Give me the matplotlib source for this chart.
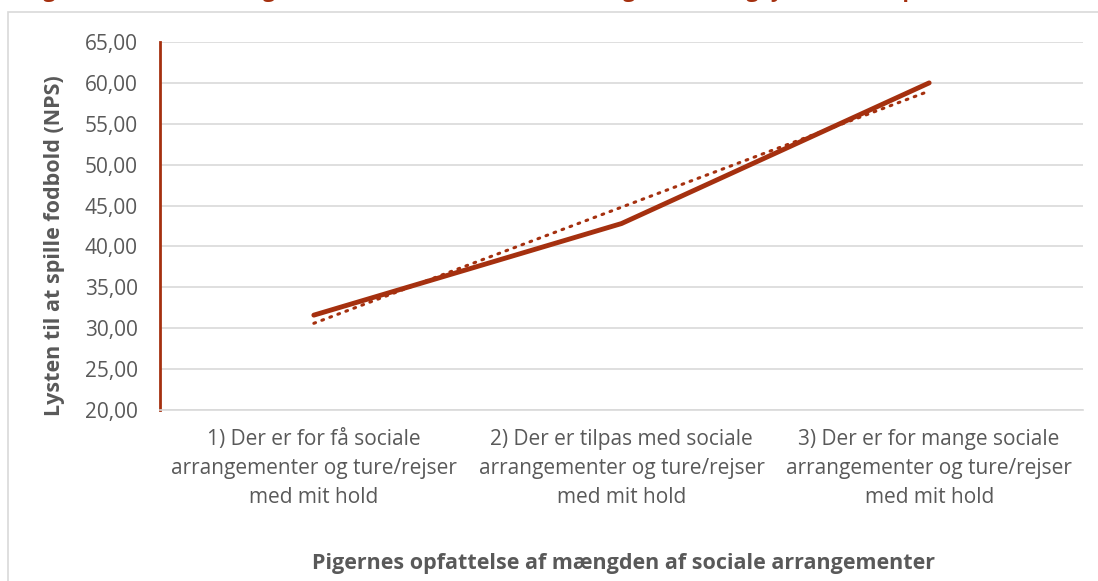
import numpy as np
import matplotlib
matplotlib.use("Agg")
import matplotlib.pyplot as plt
from matplotlib.patches import Rectangle

plt.rcParams['font.family'] = ['Open Sans', 'DejaVu Sans']

categories = ["1) Der er for få sociale\narrangementer og ture/rejser\nmed mit hold",
              "2) Der er tilpas med sociale\narrangementer og ture/rejser\nmed mit hold",
              "3) Der er for mange sociale\narrangementer og ture/rejser\nmed mit hold"]
nps = [31.6, 42.8, 60.0]
yticks = [20, 25, 30, 35, 40, 45, 50, 55, 60, 65]

red = "#A5300F"
grey = "#595959"
grid = "#D9D9D9"

W, H = 1098, 581
x = np.arange(len(categories))
coef = np.polyfit(x, nps, 1)
trend = np.polyval(coef, x)

fig = plt.figure(figsize=(10.98, 5.81), dpi=100)
ax = fig.add_axes([160/W, 1 - 410/H, (1083-160)/W, (410-42)/H])

# outer chart border
fig.patches.append(Rectangle((8/W, -0.1), 1.2, 1 - 12/H + 0.1,
                             transform=fig.transFigure, fill=False,
                             edgecolor=grid, linewidth=1.2))

# title, cut off at the top like in the reference
fig.text(25/W, 1 + 2.5/H, "Figur 14: Sammenhæng mellem antallet af sociale arrangementer og lysten til at spille fodbold",
         color=red, fontsize=15.5, fontweight='bold', ha='left', va='baseline')

ax.plot(x, nps, color=red, linewidth=3.5, solid_capstyle='round')
ax.plot(x, trend, color=red, linewidth=2.2, linestyle=(0, (0.6, 2.2)), dash_capstyle='round')

ax.set_xlim(-0.5, 2.5)
ax.set_ylim(20, 65)
ax.set_yticks(yticks)
ax.set_yticklabels([f"{v:.2f}".replace(".", ",") for v in yticks])
ax.set_xticks(x)
ax.set_xticklabels(categories, linespacing=1.5)
ax.tick_params(length=0, labelsize=15, colors=grey)
ax.tick_params(axis='x', pad=14)
ax.tick_params(axis='y', pad=16)
ax.grid(axis='y', color=grid, linewidth=1.2)
ax.set_axisbelow(True)
for s in ['top', 'right']:
    ax.spines[s].set_visible(False)
ax.spines['bottom'].set_color(grid)
ax.spines['bottom'].set_linewidth(1.2)
ax.spines['left'].set_color(red)
ax.spines['left'].set_linewidth(2)

fig.text(55/W, 1 - 246/H, "Lysten til at spille fodbold (NPS)", rotation=90,
         ha='center', va='center', fontsize=15.5, fontweight='bold', color=grey)
fig.text(624/W, 1 - 563/H, "Pigernes opfattelse af mængden af sociale arrangementer",
         ha='center', va='center', fontsize=15.5, fontweight='bold', color=grey)

fig.savefig("out.png", dpi=100)
